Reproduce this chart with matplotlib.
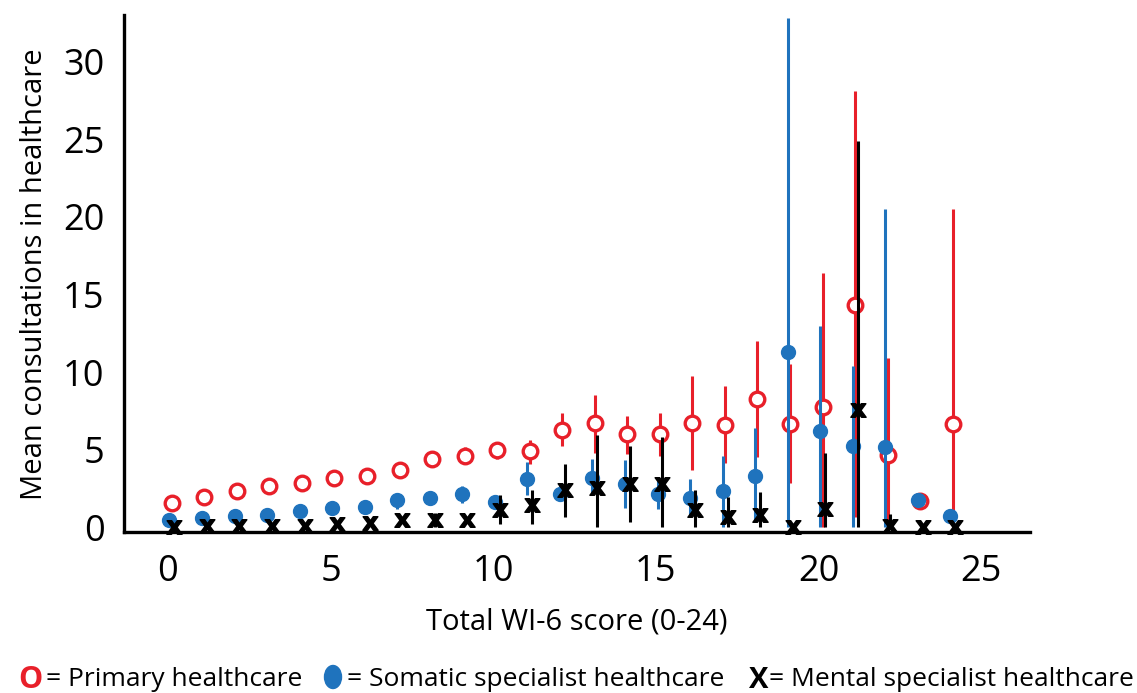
import matplotlib
matplotlib.use('Agg')
import matplotlib.pyplot as plt
from matplotlib.patches import Ellipse
import numpy as np

plt.rcParams['font.family'] = ['Open Sans', 'DejaVu Sans']

# WI-6 total score
scores = list(range(25))

# primary healthcare: mean and interval bounds
primary_mean = [1.55, 1.96, 2.32, 2.65, 2.88, 3.18, 3.29, 3.68, 4.43, 4.6, 4.97, 4.9, 6.3,
                6.69, 5.98, 6.0, 6.69, 6.62, 8.24, 6.68, 7.75, 14.3, 4.64, 1.68, 6.68]
primary_lo = [1.35, 1.75, 2.1, 2.4, 2.65, 2.95, 3.05, 3.4, 4.15, 4.3, 4.43, 4.1, 5.23,
              4.8, 4.7, 4.58, 3.68, 4.15, 4.5, 2.86, 0.0, 0.63, 0.0, 1.68, 0.0]
primary_hi = [1.75, 2.2, 2.55, 2.9, 3.1, 3.4, 3.5, 3.95, 4.7, 5.2, 5.5, 5.6, 7.37,
              8.5, 7.16, 7.37, 9.74, 9.1, 12.0, 10.5, 16.4, 28.1, 10.9, 1.68, 20.5]

# somatic specialist healthcare
somatic_mean = [0.45, 0.6, 0.73, 0.82, 1.03, 1.27, 1.31, 1.74, 1.91, 2.13, 1.63, 3.1, 2.17,
                3.2, 2.77, 2.17, 1.89, 2.32, 3.31, 11.31, 6.22, 5.24, 5.17, 1.74, 0.7]
somatic_lo = [0.3, 0.45, 0.55, 0.65, 0.85, 1.05, 1.1, 1.2, 1.55, 1.57, 1.3, 2.06, 1.7,
              2.06, 1.27, 1.2, 0.66, 0.02, 0.34, 0.0, 0.0, 0.03, 0.0, 1.74, 0.7]
somatic_hi = [0.6, 0.75, 0.9, 1.0, 1.2, 1.5, 1.55, 2.17, 2.3, 2.65, 2.0, 4.2, 2.7,
              4.37, 4.32, 3.0, 3.14, 4.58, 6.37, 32.8, 13.0, 10.4, 20.5, 1.74, 0.7]

# mental specialist healthcare
mental_mean = [0.0, 0.05, 0.05, 0.1, 0.1, 0.2, 0.28, 0.45, 0.45, 0.45, 1.1, 1.42, 2.39,
               2.56, 2.82, 2.77, 1.1, 0.63, 0.77, 0.0, 1.19, 7.57, 0.1, 0.0, 0.0]
mental_lo = [0.0, 0.0, 0.0, 0.05, 0.05, 0.1, 0.15, 0.25, 0.02, 0.3, 0.2, 0.24, 0.66,
             0.0, 0.34, 0.0, 0.0, 0.0, 0.0, 0.0, 0.0, 0.0, 0.0, 0.0, 0.0]
mental_hi = [0.05, 0.1, 0.1, 0.2, 0.2, 0.3, 0.4, 0.65, 0.92, 0.6, 2.06, 2.39, 4.1,
             5.94, 5.23, 5.83, 2.43, 1.96, 2.28, 0.0, 4.8, 24.9, 0.85, 0.0, 0.0]

RED = '#e8202a'
BLUE = '#1f73bd'

fig = plt.figure(figsize=(11.37, 6.93), dpi=100)
ax = fig.add_axes([0.109, 0.232, 0.797, 0.746])

x = np.array(scores, dtype=float)


def yerr(mean, lo, hi):
    m = np.array(mean)
    return [m - np.array(lo), np.array(hi) - m]


# primary (open red circles) - drawn first, blue sits over it
ax.errorbar(x + 0.12, primary_mean, yerr=yerr(primary_mean, primary_lo, primary_hi),
            fmt='o', mfc='white', mec=RED, mew=2.4, ecolor=RED, elinewidth=2.2,
            capsize=0, markersize=10.5, zorder=3, clip_on=False)
# somatic (filled blue dots)
ax.errorbar(x + 0.05, somatic_mean, yerr=yerr(somatic_mean, somatic_lo, somatic_hi),
            fmt='o', color=BLUE, ecolor=BLUE, elinewidth=2.2, capsize=0,
            markersize=10, zorder=4, clip_on=False)
# mental (black x)
ax.errorbar(x + 0.2, mental_mean, yerr=yerr(mental_mean, mental_lo, mental_hi),
            fmt='none', ecolor='black', elinewidth=2.2, capsize=0, zorder=5, clip_on=False)
ax.plot(x + 0.2, mental_mean, linestyle='none', marker=r'$\mathbf{x}$', color='black',
        markersize=11, zorder=6, clip_on=False)

ax.set_xlim(-1.35, 26.5)
ax.set_ylim(-0.32, 33)
ax.set_xticks([0, 5, 10, 15, 20, 25])
ax.set_yticks([0, 5, 10, 15, 20, 25, 30])
ax.tick_params(length=0, labelsize=26)
ax.tick_params(axis='x', pad=16)
ax.tick_params(axis='y', pad=14)
for s in ['top', 'right']:
    ax.spines[s].set_visible(False)
for s in ['left', 'bottom']:
    ax.spines[s].set_linewidth(2.4)

ax.set_xlabel('Total WI-6 score (0-24)', fontsize=21, labelpad=12)
ax.set_ylabel('Mean consultations in healthcare', fontsize=21, labelpad=10)

# legend row written as plain text with drawn symbols
ly = 1 - 680 / 693
fig.text(30 / 1137, ly, 'O', color=RED, fontsize=22, fontweight='bold', ha='center', va='center')
fig.text(46 / 1137, ly, '= Primary healthcare', fontsize=19, ha='left', va='center')
fig.add_artist(Ellipse((333 / 1137, 1 - 677 / 693), 17 / 1137, 23 / 693,
                       transform=fig.transFigure, color=BLUE))
fig.text(347 / 1137, ly, '= Somatic specialist healthcare', fontsize=19, ha='left', va='center')
fig.text(759 / 1137, ly, 'X', color='black', fontsize=21, fontweight='bold', ha='center', va='center')
fig.text(769 / 1137, ly, '= Mental specialist healthcare', fontsize=19, ha='left', va='center')

fig.savefig('out.png', dpi=100, facecolor='white')
